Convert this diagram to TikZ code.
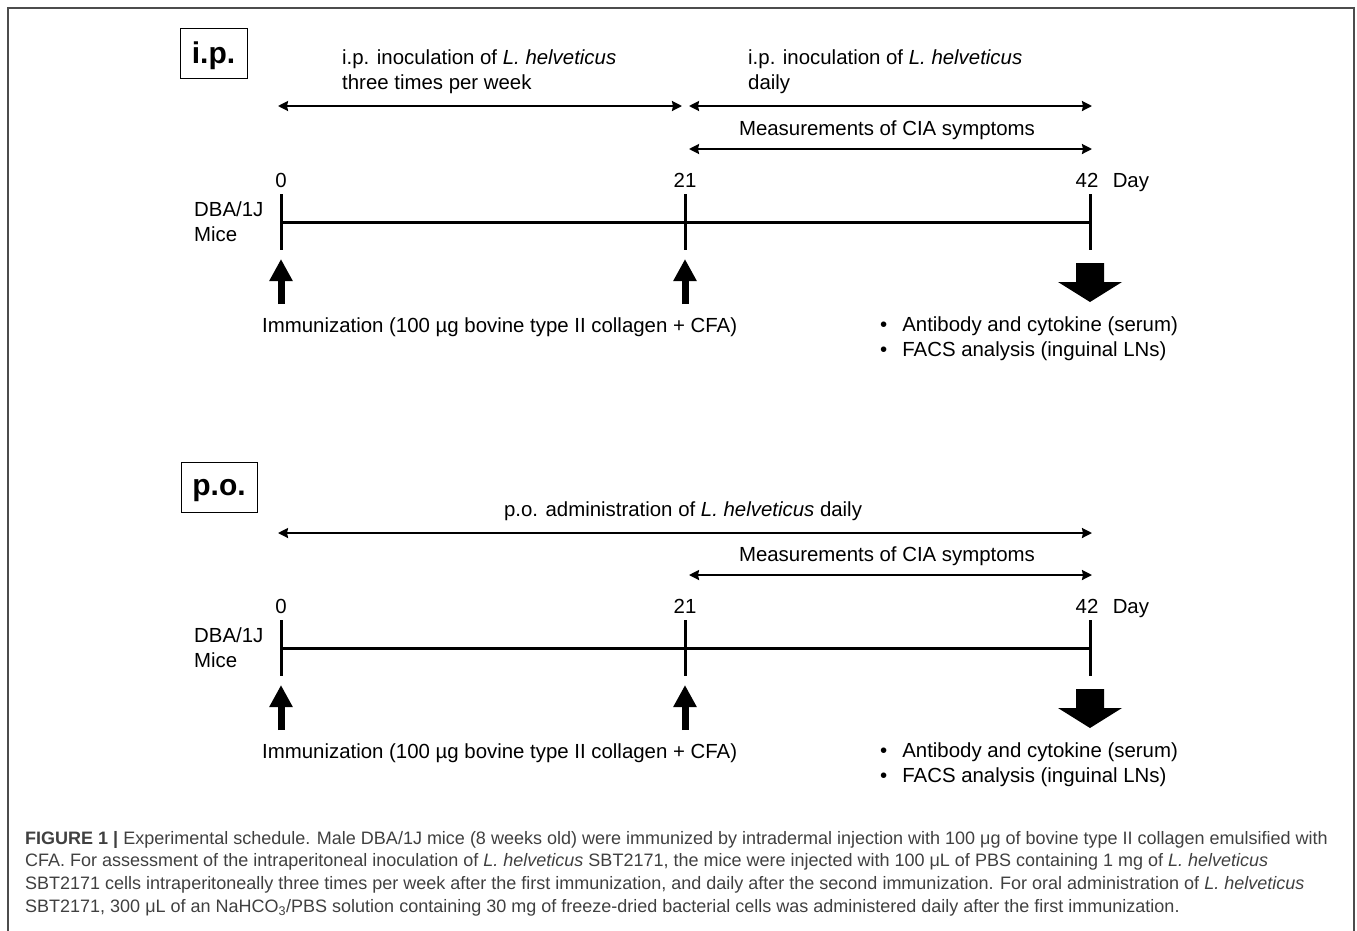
\documentclass[tikz,border=0pt]{standalone}
\usepackage{fontspec}
\setmainfont{Liberation Sans}
\newfontfamily\capfont{Liberation Sans}
\usetikzlibrary{positioning,arrows.meta}

\tikzset{
  lbl/.style={font=\fontsize{20.4}{25}\selectfont, inner sep=0pt},
  caption/.style={font=\capfont\fontsize{18}{22.7}\selectfont, text=black!75, inner sep=0pt, align=left},
  span/.style={{Stealth[length=10pt,width=10pt,inset=1pt]}-{Stealth[length=10pt,width=10pt,inset=1pt]}, line width=2},
  axis/.style={line width=3},
  push/.style={-{Triangle[length=22pt,width=22pt]}, line width=7},
  tag/.style={draw, line width=1, font=\bfseries\fontsize{30}{32}\selectfont, text depth=0pt, minimum width=67, minimum height=50}
}

\begin{document}
\begin{tikzpicture}[x=1pt,y=-1pt]
\useasboundingbox (0,0) rectangle (1357,930);
% frame
\draw[line width=1.5, color=black!70](8,935) -- (8,8) -- (1354,8) -- (1354,935);

% i.p. panel
\node[tag] (ipbox) at (213.5,53) {i.p.};
\node[lbl, anchor=west, align=left] (ipthree) at (342,72) {i.p. inoculation of \textit{L. helveticus}\\three times per week};
\node[lbl, anchor=west, align=left] (ipdaily) at (748,72) {i.p. inoculation of \textit{L. helveticus}\\daily};
\coordinate (ipa) at (278,106);
\coordinate (ipb) at (682,106);
\coordinate (ipc) at (689,106);
\coordinate (ipd) at (1092,106);
\draw[span](ipa) -- (ipb);
\draw[span](ipc) -- (ipd);
\node[lbl] (ipcia) at (887,130) {Measurements of CIA symptoms};
\coordinate (ipe) at (689,149);
\coordinate (ipf) at (1092,149);
\draw[span](ipe) -- (ipf);

\node[lbl] (ipday0) at (281,180) {0};
\node[lbl] (ipday21) at (685,180) {21};
\node[lbl] (ipday42) at (1087,180) {42};
\node[lbl, anchor=base west] (ipday) at ([xshift=14pt]ipday42.base east) {Day};
\node[lbl, anchor=west, align=left] (ipmice) at (194,222) {DBA/1J\\Mice};
\coordinate (ipt0) at (281,222);
\coordinate (ipt21) at (685,222);
\coordinate (ipt42) at (1090,222);
\draw[axis](ipt0) -- (ipt42);
\draw[axis](281,194) -- (281,250);
\draw[axis](685,194) -- (685,250);
\draw[axis](1090,194) -- (1090,250);

\coordinate (ipup0) at (281,304);
\coordinate (ipup21) at (685,304);
\draw[push](ipup0) -- ++(0,-45);
\draw[push](ipup21) -- ++(0,-45);
\fill(1076,263) -- (1104,263) -- (1104,282) -- (1122,282) -- (1090,302) -- (1058,282) -- (1076,282) -- cycle;

\node[lbl, anchor=west] (ipimmu) at (262,327) {Immunization (100 µg bovine type II collagen + CFA)};
\node[lbl, anchor=west, align=left] (ipres) at (880,339) {•\hspace{15pt}Antibody and cytokine (serum)\\•\hspace{15pt}FACS analysis (inguinal LNs)};

% p.o. panel
\node[tag, minimum width=76] (pobox) at (219,487) {p.o.};
\node[lbl] (podaily) at (683,511) {p.o. administration of \textit{L. helveticus} daily};
\coordinate (poa) at (278,533);
\coordinate (pod) at (1092,533);
\draw[span](poa) -- (pod);
\node[lbl] (pocia) at (887,556) {Measurements of CIA symptoms};
\coordinate (poe) at (689,575);
\coordinate (pof) at (1092,575);
\draw[span](poe) -- (pof);

\node[lbl] (poday0) at (281,606) {0};
\node[lbl] (poday21) at (685,606) {21};
\node[lbl] (poday42) at (1087,606) {42};
\node[lbl, anchor=base west] (poday) at ([xshift=14pt]poday42.base east) {Day};
\node[lbl, anchor=west, align=left] (pomice) at (194,648) {DBA/1J\\Mice};
\coordinate (pot0) at (281,648);
\coordinate (pot21) at (685,648);
\coordinate (pot42) at (1090,648);
\draw[axis](pot0) -- (pot42);
\draw[axis](281,620) -- (281,676);
\draw[axis](685,620) -- (685,676);
\draw[axis](1090,620) -- (1090,676);

\coordinate (poup0) at (281,730);
\coordinate (poup21) at (685,730);
\draw[push](poup0) -- ++(0,-45);
\draw[push](poup21) -- ++(0,-45);
\fill(1076,689) -- (1104,689) -- (1104,708) -- (1122,708) -- (1090,728) -- (1058,708) -- (1076,708) -- cycle;

\node[lbl, anchor=west] (poimmu) at (262,753) {Immunization (100 µg bovine type II collagen + CFA)};
\node[lbl, anchor=west, align=left] (pores) at (880,765) {•\hspace{15pt}Antibody and cytokine (serum)\\•\hspace{15pt}FACS analysis (inguinal LNs)};

% caption
\node[caption, anchor=north west] (figcap) at (25,831) {\textbf{FIGURE 1 |} Experimental schedule. Male DBA/1J mice (8 weeks old) were immunized by intradermal injection with 100 μg of bovine type II collagen emulsified with\\
CFA. For assessment of the intraperitoneal inoculation of \textit{L. helveticus} SBT2171, the mice were injected with 100 μL of PBS containing 1 mg of \textit{L. helveticus}\\
SBT2171 cells intraperitoneally three times per week after the first immunization, and daily after the second immunization. For oral administration of \textit{L. helveticus}\\
SBT2171, 300 μL of an NaHCO\textsubscript{3}/PBS solution containing 30 mg of freeze-dried bacterial cells was administered daily after the first immunization.};
\end{tikzpicture}
\end{document}
